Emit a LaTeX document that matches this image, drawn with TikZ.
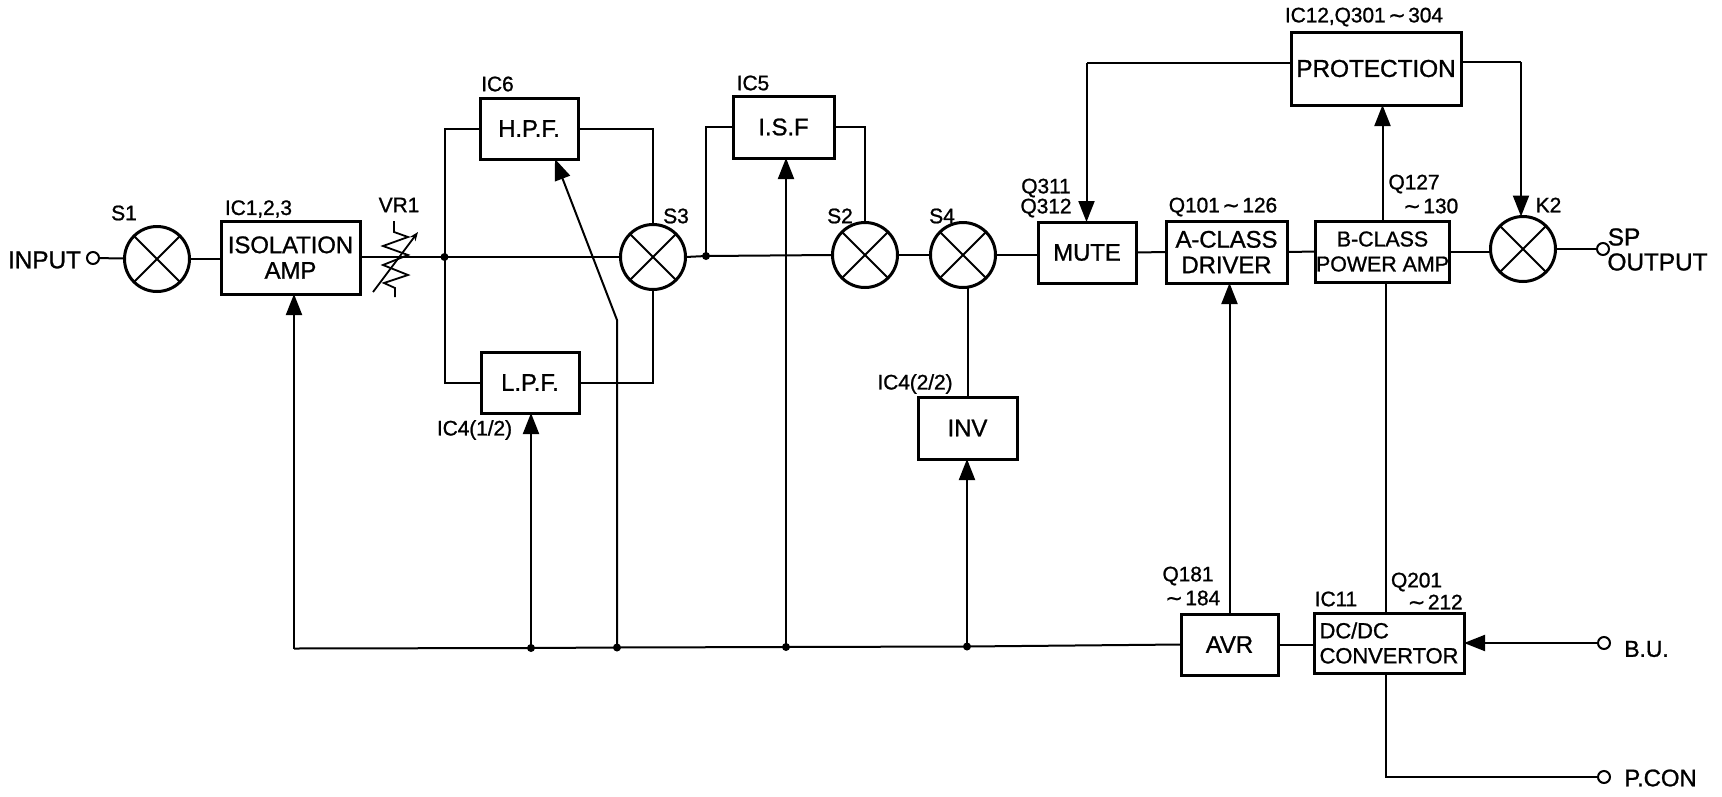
\documentclass[tikz,border=0pt]{standalone}
\usepackage{fontspec}
\setmainfont{Liberation Sans}[FakeBold=1,LetterSpace=-0.5]
\newfontfamily\tildefont{DejaVu Sans}[FakeBold=1]
\usetikzlibrary{arrows.meta,calc}
\newcommand{\tld}{\hspace{2.5pt}{\tildefont ∼}\hspace{2.5pt}}
\tikzset{
  sig/.style={line width=2pt,line join=miter},
  arr/.style={sig,-{Triangle[length=21pt,width=16pt]}},
  blockbox/.style={draw,line width=3pt,inner sep=0pt,outer sep=0pt,align=center,font=\fontsize{24}{25.5}\selectfont},
  mixer/.style={draw,circle,line width=3pt,minimum size=65pt,inner sep=0pt,outer sep=0pt,
    path picture={\draw[line width=2pt] (path picture bounding box.north west)--(path picture bounding box.south east)
      (path picture bounding box.north east)--(path picture bounding box.south west);}},
  term/.style={draw,circle,line width=2pt,minimum size=12pt,inner sep=0pt,outer sep=0pt},
  junct/.style={fill,circle,minimum size=8pt,inner sep=0pt,outer sep=0pt},
  lab/.style={inner sep=0pt,outer sep=0pt,font=\fontsize{21}{21}\selectfont},
  biglab/.style={inner sep=0pt,outer sep=0pt,font=\fontsize{24.5}{25}\selectfont,align=left},
}
\begin{document}
\begin{tikzpicture}[x=1pt,y=-1pt]
\fill[white] (0,0) rectangle (1722,796);
\useasboundingbox (0,0) rectangle (1722,796);
% blocks
\node[blockbox,minimum width=139pt,minimum height=73pt] (isol) at (290.5,257.5) {ISOLATION\\AMP};
\node[blockbox,minimum width=98pt,minimum height=61pt] (hpf) at (529,128.5) {H.P.F.};
\node[blockbox,minimum width=98pt,minimum height=61pt] (lpf) at (530,382.5) {L.P.F.};
\node[blockbox,minimum width=101pt,minimum height=62pt] (isf) at (783.5,127) {I.S.F};
\node[blockbox,minimum width=99pt,minimum height=62pt] (inv) at (967.5,428) {INV};
\node[blockbox,minimum width=98pt,minimum height=61pt] (mute) at (1087,252.5) {MUTE};
\node[blockbox,minimum width=121pt,minimum height=62pt] (acl) at (1226.5,252) {A-CLASS\\DRIVER};
\node[blockbox,minimum width=133pt,minimum height=61pt,font=\fontsize{21.5}{25}\selectfont] (bcl) at (1382.5,251.5) {B-CLASS\\POWER AMP};
\node[blockbox,minimum width=170pt,minimum height=73pt,font=\fontsize{24.5}{25}\selectfont] (prot) at (1376,68.5) {PROTECTION};
\node[blockbox,minimum width=97pt,minimum height=61pt] (avr) at (1229.5,644.5) {AVR};
\node[blockbox,minimum width=150pt,minimum height=60pt,align=left,font=\fontsize{22}{25}\selectfont] (dcdc) at (1389,643) {DC/DC\\CONVERTOR};
% mixers
\node[mixer] (s1) at (157,259) {};
\node[mixer] (s3) at (653,257) {};
\node[mixer] (s2) at (865,255) {};
\node[mixer] (s4) at (963,255) {};
\node[mixer] (k2) at (1523,249) {};
% terminals
\node[term] (tin) at (93,258) {};
\node[term] (tsp) at (1603,249) {};
\node[term] (tbu) at (1604,643) {};
\node[term] (tpc) at (1604,777) {};
% junctions
\node[junct] (j1) at (444.5,257) {};
\node[junct] (j2) at (706,256) {};
\node[junct] (b1) at (531,648) {};
\node[junct] (b2) at (617,647.5) {};
\node[junct] (b3) at (786,647) {};
\node[junct] (b4) at (967,646.5) {};
\coordinate (bl) at (294,648.5);
\coordinate (bend) at (617,320);
\coordinate (hpftip) at (555,159);
\coordinate (plc) at (1386,777);
\coordinate (mutedrop) at (1086.5,63);
\coordinate (k2drop) at (1521,62);
% main path
\draw[sig] (tin) -- (s1);
\draw[sig] (s1) -- (isol.west |- s1);
\draw[sig] (isol.east |- j1) -- (j1.center) -- (s3.west);
\draw[sig] (s3.east) -- (j2.center) -- (s2.west);
\draw[sig] (s2.east) -- (s4.west);
\draw[sig] (s4.east) -- (mute.west |- s4.east);
\draw[sig] (mute.east) -- (acl.west);
\draw[sig] (acl.east) -- (bcl.west);
\draw[sig] (bcl.east) -- (k2.west |- bcl.east);
\draw[sig] (k2.east) -- (tsp);
% parallel branches
\draw[sig] (j1.center) |- (hpf.west);
\draw[sig] (j1.center) |- (lpf.west);
\draw[sig] (hpf.east) -| (s3.north);
\draw[sig] (lpf.east) -| (s3.south);
\draw[sig] (j2.center) |- (isf.west);
\draw[sig] (isf.east) -| (s2.north);
\draw[sig] (inv.north) -- (inv.north |- s4.south);
% feedback / control
\draw[sig] (bl) -- (b1.center) -- (b2.center) -- (b3.center) -- (b4.center) -- (avr.west);
\draw[sig] (avr.east) -- (dcdc.west |- avr.east);
\draw[arr] (bl) -- (isol.south -| bl);
\draw[arr] (b1.center) -- (lpf.south -| b1);
\draw[arr] (b2.center) -- (bend) -- (hpftip);
\draw[arr] (b3.center) -- (isf.south -| b3);
\draw[arr] (b4.center) -- (inv.south -| b4);
\draw[arr] (avr.north) -- (acl.south -| avr.north);
\draw[sig] (dcdc.north -| plc) -- (bcl.south -| plc);
\draw[arr] (bcl.north) -- (prot.south -| bcl.north);
\draw[sig] (prot.west |- mutedrop) -- (mutedrop);
\draw[arr] (mutedrop) -- (mute.north -| mutedrop);
\draw[sig] (prot.east |- k2drop) -- (k2drop);
\draw[arr] (k2drop) -- (k2.north -| k2drop);
\draw[arr] (tbu) -- (dcdc.east |- tbu);
\draw[sig] (dcdc.south -| plc) -- (plc) -- (tpc);
% VR1 variable resistor
\draw[line width=1.8pt,line join=miter] (394,221) -- (394,232) -- (408,237) -- (383,246) -- (408,255) -- (383,265) -- (408,275) -- (384,283) -- (395,288) -- (395,297);
\draw[line width=1.8pt,-{Stealth[length=9pt,width=7pt]}] (373,292) -- (418,232);
% labels
\node[biglab] (linput) at (44.5,260) {INPUT};
\node[biglab] (lsp) at (1624,237) {SP};
\node[biglab] (lout) at (1657.5,262) {OUTPUT};
\node[biglab,font=\fontsize{23}{25}\selectfont] (lbu) at (1646.5,649) {B.U.};
\node[biglab,font=\fontsize{24}{25}\selectfont] (lpc) at (1660.5,778) {P.CON};
\node[lab] (ls1) at (124,213) {S1};
\node[lab] (lic1) at (258.5,209) {IC1,2,3};
\node[lab] (lvr) at (399,205) {VR1};
\node[lab] (lic6) at (497.5,84) {IC6};
\node[lab] (ls3) at (676,216) {S3};
\node[lab] (lic41) at (474.5,430) {IC4(1/2)};
\node[lab] (lic5) at (753,83) {IC5};
\node[lab] (ls2) at (840,216) {S2};
\node[lab] (ls4) at (942,216) {S4};
\node[lab] (lic42) at (915,384) {IC4(2/2)};
\node[lab] (lic12) at (1364,17) {IC12,Q301\tld304};
\node[lab] (lq311) at (1046,188) {Q311};
\node[lab] (lq312) at (1046,208) {Q312};
\node[lab] (lq101) at (1223,207) {Q101\tld126};
\node[lab] (lq127) at (1414,184) {Q127};
\node[lab] (lq130) at (1429.5,206) {\tld130};
\node[lab] (lk2) at (1548.5,205) {K2};
\node[lab] (lq181) at (1188,576) {Q181};
\node[lab] (lq184) at (1191.5,598) {\tld184};
\node[lab] (lic11) at (1336,599) {IC11};
\node[lab] (lq201) at (1416.5,582) {Q201};
\node[lab] (lq212) at (1434,602) {\tld212};
\end{tikzpicture}
\end{document}
